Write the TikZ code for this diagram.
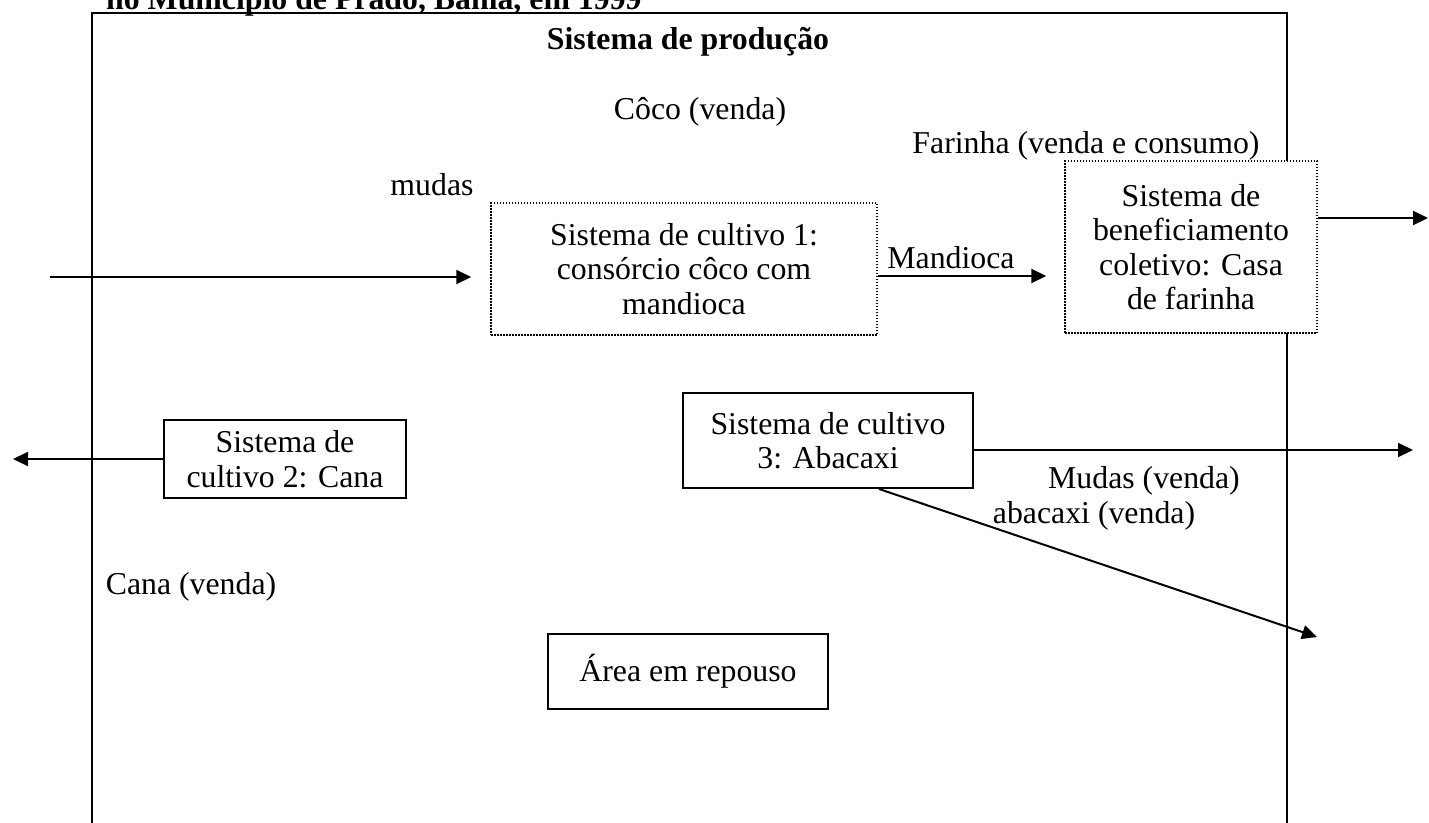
\documentclass[tikz,border=0pt]{standalone}
\usepackage{fontspec}
\setmainfont{Liberation Serif}
\usetikzlibrary{arrows.meta}
\newcommand\myfs{\fontsize{31.8}{34.5}\selectfont}
\begin{document}
\begin{tikzpicture}[x=1pt,y=-1pt,
  lbl/.style={font=\myfs,inner sep=0pt,align=center},
  solidbox/.style={draw,line width=2pt,fill=white,font=\myfs,align=center,inner sep=0pt},
  dotbox/.style={draw,line width=1.5pt,dash pattern=on 1.5pt off 1.5pt,fill=white,font=\myfs,align=center,inner sep=0pt},
  arr/.style={line width=2pt,-{Triangle[length=15pt,width=14pt]}}]
\clip (0,0) rectangle (1429,822);
\useasboundingbox (0,0) rectangle (1429,822);
\fill[white] (0,0) rectangle (1429,822);
% title (cut at top)
\node[lbl,font=\myfs\bfseries,anchor=base west] (title) at (106,9) {no Município de Prado, Bahia, em 1999};
% main frame
\draw[line width=2.5pt] (92,900) -- (92,13) -- (1287,13) -- (1287,900);
\node[lbl,font=\myfs\bfseries] (prod) at (688,42) {Sistema de produção};
\node[lbl] (coco) at (700,112) {Côco (venda)};
\node[lbl] (farinha) at (1086,146) {Farinha (venda e consumo)};
\node[lbl] (mudas) at (432,185) {mudas};
% boxes
\node[dotbox,minimum width=386pt,minimum height=132pt] (b1) at (684,269) {Sistema de cultivo 1:\\consórcio côco com\\mandioca};
\node[dotbox,minimum width=252pt,minimum height=172pt] (ben) at (1191,247) {Sistema de\\beneficiamento\\coletivo: Casa\\de farinha};
\node[solidbox,minimum width=290pt,minimum height=95pt] (c3) at (828,440.5) {Sistema de cultivo\\3: Abacaxi};
\node[solidbox,minimum width=242pt,minimum height=78pt] (c2) at (285,459) {Sistema de\\cultivo 2: Cana};
\node[solidbox,minimum width=280pt,minimum height=75pt] (area) at (688,671) {Área em repouso};
% labels
\node[lbl] (mand) at (951,258) {Mandioca};
\node[lbl] (mudasv) at (1144,481) {Mudas (venda)};
\node[lbl] (abac) at (1094,516) {abacaxi (venda)};
\node[lbl] (cana) at (191,587) {Cana (venda)};
% free ends
\coordinate (inL) at (50,277);
\coordinate (outBen) at (1428,218);
\coordinate (outC3) at (1413,450);
\coordinate (outDiag) at (1317,637);
\coordinate (outC2) at (13,459);
% connectors
\draw[arr] (inL) -- ([xshift=-19pt]b1.west |- inL);
\draw[arr] (b1.east |- 0,276) -- ([xshift=-18pt]ben.west |- 0,276);
\draw[arr] (ben.east |- outBen) -- (outBen);
\draw[arr] (c3.east |- outC3) -- (outC3);
\draw[arr] (c3.south -| 879,0) -- (outDiag);
\draw[arr] (c2.west) -- (outC2);
\end{tikzpicture}
\end{document}
